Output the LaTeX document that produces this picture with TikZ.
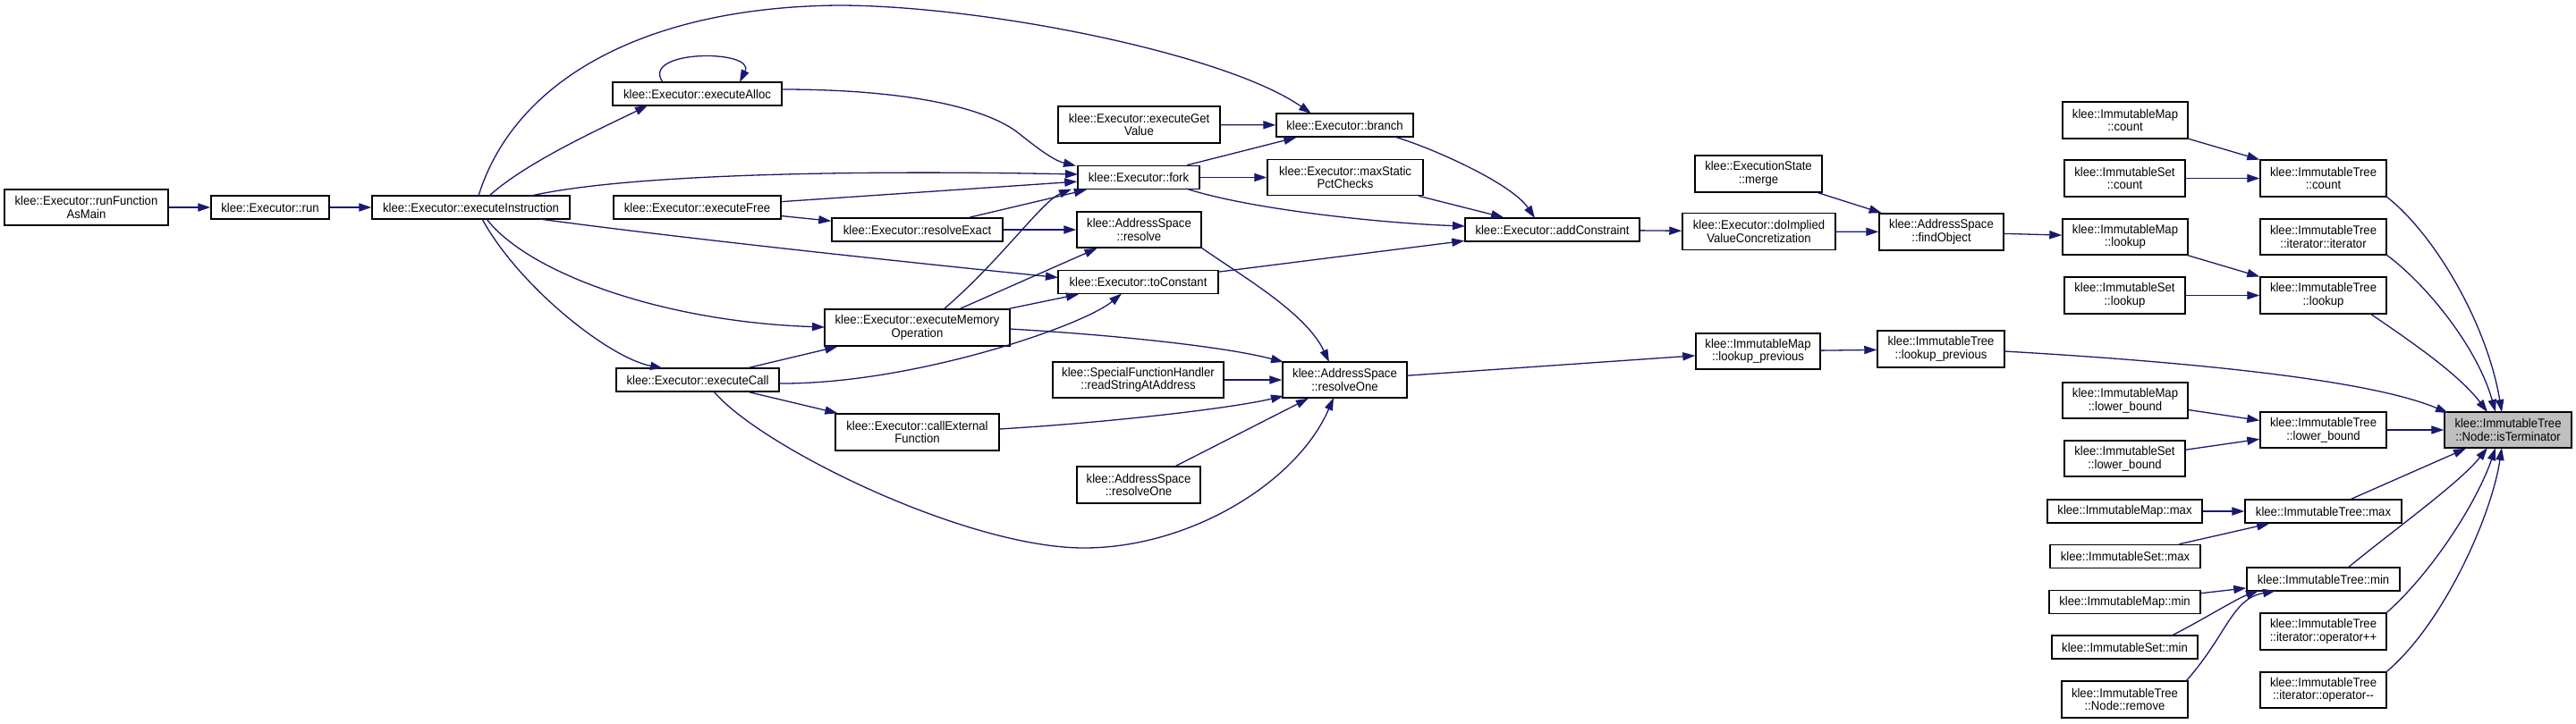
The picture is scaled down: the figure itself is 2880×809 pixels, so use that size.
\documentclass[tikz,border=0pt]{standalone}
\usepackage{fontspec}
\setmainfont{Liberation Sans}[FakeStretch=0.93]
\usetikzlibrary{arrows.meta}
\definecolor{edgec}{HTML}{191970}
\definecolor{termfill}{HTML}{BFBFBF}
\newcommand\bx[6]{\pgfmathsetmacro\bxw{#4*0.5}\pgfmathsetmacro\bxh{#5*0.5}%
  \node[box,minimum width=\bxw pt,minimum height=\bxh pt] (#1) at (#2,#3) {#6};}
\begin{document}
\begin{tikzpicture}[x=0.5pt,y=-0.5pt,
  box/.style={draw=black,line width=0.75pt,fill=white,inner sep=0pt,align=center,
    font=\fontsize{7.05}{7.3}\selectfont},
  edge/.style={draw=edgec,line width=0.65pt,-{Triangle[length=7pt,width=4.6pt]}}]
\fill[white] (0,0) rectangle (2880,809);
\useasboundingbox (0,0) rectangle (2880,809);
% nodes
\bx{rfam}{96.5}{232}{183}{40}{klee::Executor::runFunction\\AsMain}
\bx{run}{302}{232}{132}{26}{klee::Executor::run}
\bx{ei}{526.5}{232}{221}{26}{klee::Executor::executeInstruction}
\bx{ealloc}{779.5}{105}{189}{26}{klee::Executor::executeAlloc}
\bx{efree}{779.5}{232}{187}{26}{klee::Executor::executeFree}
\bx{ecall}{780}{425}{182}{26}{klee::Executor::executeCall}
\bx{egv}{1273.5}{139.5}{181}{41}{klee::Executor::executeGet\\Value}
\bx{branch}{1503.5}{140}{153}{26}{klee::Executor::branch}
\bx{fork}{1273}{198.5}{136}{26}{klee::Executor::fork}
\bx{maxs}{1504}{198.5}{174}{40}{klee::Executor::maxStatic\\PctChecks}
\bx{rexact}{1025.5}{257}{191}{26}{klee::Executor::resolveExact}
\bx{resolve}{1273.5}{257}{139}{40}{klee::AddressSpace\\::resolve}
\bx{tocon}{1272.5}{315.5}{179}{26}{klee::Executor::toConstant}
\bx{addc}{1735.5}{257}{195}{26}{klee::Executor::addConstraint}
\bx{emo}{1025.5}{366.5}{207}{41}{klee::Executor::executeMemory\\Operation}
\bx{rsaa}{1272.5}{425}{191}{40}{klee::SpecialFunctionHandler\\::readStringAtAddress}
\bx{rone}{1503.5}{425}{139}{40}{klee::AddressSpace\\::resolveOne}
\bx{cef}{1025.5}{483.5}{183}{41}{klee::Executor::callExternal\\Function}
\bx{rone2}{1273}{542.5}{138}{41}{klee::AddressSpace\\::resolveOne}
\bx{divc}{1966.5}{259}{171}{41}{klee::Executor::doImplied\\ValueConcretization}
\bx{merge}{1966}{194.5}{142}{41}{klee::ExecutionState\\::merge}
\bx{findobj}{2170.5}{259.5}{139}{41}{klee::AddressSpace\\::findObject}
\bx{imlp}{1965.5}{393}{139}{40}{klee::ImmutableMap\\::lookup\_previous}
\bx{itlp}{2170}{390.5}{142}{41}{klee::ImmutableTree\\::lookup\_previous}
\bx{imcount}{2376}{134.5}{140}{41}{klee::ImmutableMap\\::count}
\bx{iscount}{2375.5}{199.5}{135}{41}{klee::ImmutableSet\\::count}
\bx{itcount}{2597.5}{199.5}{141}{41}{klee::ImmutableTree\\::count}
\bx{imlookup}{2376}{265}{140}{40}{klee::ImmutableMap\\::lookup}
\bx{ititer}{2597.5}{265}{141}{40}{klee::ImmutableTree\\::iterator::iterator}
\bx{islookup}{2375.5}{330.5}{135}{41}{klee::ImmutableSet\\::lookup}
\bx{itlookup}{2597.5}{330.5}{141}{41}{klee::ImmutableTree\\::lookup}
\bx{imlb}{2376}{448}{140}{40}{klee::ImmutableMap\\::lower\_bound}
\bx{itlb}{2597.5}{481}{141}{40}{klee::ImmutableTree\\::lower\_bound}
\bx{islb}{2375.5}{513}{135}{40}{klee::ImmutableSet\\::lower\_bound}
\node[box,fill=termfill,minimum width=71pt,minimum height=20pt] (isterm) at (2804,481) {klee::ImmutableTree\\::Node::isTerminator};
\bx{immax}{2375.5}{572}{173}{26}{klee::ImmutableMap::max}
\bx{itmax}{2597.5}{572}{175}{26}{klee::ImmutableTree::max}
\bx{ismax}{2376}{622.5}{168}{26}{klee::ImmutableSet::max}
\bx{itmin}{2597.5}{648}{171}{26}{klee::ImmutableTree::min}
\bx{immin}{2375.5}{673.5}{169}{26}{klee::ImmutableMap::min}
\bx{itpp}{2597.5}{706.5}{141}{41}{klee::ImmutableTree\\::iterator::operator++}
\bx{ismin}{2375.5}{724}{163}{26}{klee::ImmutableSet::min}
\bx{itmm}{2597.5}{772}{141}{40}{klee::ImmutableTree\\::iterator::operator-{}-}
\bx{nremove}{2375.5}{782.5}{141}{41}{klee::ImmutableTree\\::Node::remove}
% straight edges
\draw[edge] (rfam) -- (run);
\draw[edge] (run) -- (ei);
\draw[edge] (egv) -- (branch);
\draw[edge] (fork) -- (maxs);
\draw[edge] (rexact) -- (resolve);
\draw[edge] (rsaa) -- (rone);
\draw[edge] (addc) -- (divc);
\draw[edge] (divc) -- (findobj);
\draw[edge] (findobj) -- (imlookup);
\draw[edge] (imlp) -- (itlp);
\draw[edge] (iscount) -- (itcount);
\draw[edge] (islookup) -- (itlookup);
\draw[edge] (itlb) -- (isterm);
\draw[edge] (immax) -- (itmax);
\draw[edge] (imcount) -- (itcount);
\draw[edge] (imlookup) -- (itlookup);
\draw[edge] (imlb) -- (itlb);
\draw[edge] (islb) -- (itlb);
\draw[edge] (ismax) -- (itmax);
\draw[edge] (immin) -- (itmin);
\draw[edge] (itmax) -- (isterm);
\draw[edge] (ecall) -- (emo);
\draw[edge] (ecall) -- (cef);
\draw[edge] (efree) -- (rexact);
\draw[edge] (efree) -- (fork);
\draw[edge] (rexact) -- (fork);
\draw[edge] (fork) -- (branch);
\draw[edge] (maxs) -- (addc);
\draw[edge] (tocon) -- (addc);
\draw[edge] (merge) -- (findobj);
\draw[edge] (rone) -- (imlp);
\draw[edge] (emo) -- (resolve);
\draw[edge] (emo) -- (tocon);
\draw[edge] (rone2) -- (rone);
% curved edges
\draw[edge] ([shift={(8.5,-13)}]ei.center) .. controls (575,90) and (720,8) .. (937,6)
  .. controls (1100,6) and (1370,60) .. ([shift={(-37.5,-13)}]branch.center);
\draw[edge] ([shift={(20.5,-13)}]ei.center) .. controls (590,180) and (680,140) .. ([shift={(-55.5,13)}]ealloc.center);
\draw[edge] ([shift={(-38.5,-13)}]ealloc.center) .. controls (715,55) and (845,55) .. ([shift={(47.5,-13)}]ealloc.center);
\draw[edge] ([shift={(94.5,-5)}]ealloc.center) .. controls (1030,100) and (1110,125) .. (1140,150)
  .. controls (1165,170) and (1180,180) .. ([shift={(-70,-13)}]fork.center);
\draw[edge] ([shift={(67.5,-13)}]ei.center) .. controls (700,195) and (950,190) .. ([shift={(-68,-3.5)}]fork.center);
\draw[edge] ([shift={(76.5,13)}]ei.center) .. controls (750,265) and (1000,292) .. ([shift={(-89.5,-5)}]tocon.center);
\draw[edge] ([shift={(17.5,13)}]ei.center) .. controls (590,305) and (740,360) .. ([shift={(-103.5,-0.5)}]emo.center);
\draw[edge] ([shift={(12.5,13)}]ei.center) .. controls (580,320) and (680,400) .. ([shift={(-39,-13)}]ecall.center);
\draw[edge] ([shift={(29.5,-20.5)}]emo.center) .. controls (1120,290) and (1165,225) .. ([shift={(-75,13)}]fork.center);
\draw[edge] ([shift={(103.5,1.5)}]emo.center) .. controls (1250,375) and (1370,388) .. ([shift={(-68.5,-20)}]rone.center);
\draw[edge] ([shift={(91,4)}]ecall.center) .. controls (1020,430) and (1210,365) .. ([shift={(-18.5,13)}]tocon.center);
\draw[edge] ([shift={(18,13)}]ecall.center) .. controls (850,500) and (1080,613) .. (1212,613)
  .. controls (1330,613) and (1450,540) .. ([shift={(-12.5,20)}]rone.center);
\draw[edge] ([shift={(91.5,-3.5)}]cef.center) .. controls (1250,472) and (1380,456) .. ([shift={(-68.5,18)}]rone.center);
\draw[edge] ([shift={(69.5,20)}]resolve.center) .. controls (1390,310) and (1460,350) .. ([shift={(-17.5,-20)}]rone.center);
\draw[edge] ([shift={(53,12.5)}]fork.center) .. controls (1400,235) and (1550,250) .. ([shift={(-97.5,-4)}]addc.center);
\draw[edge] ([shift={(55.5,13)}]branch.center) .. controls (1600,165) and (1690,205) .. ([shift={(-19.5,-13)}]addc.center);
\draw[edge] ([shift={(71,2.5)}]itlp.center) .. controls (2450,405) and (2650,425) .. ([shift={(-67,-19)}]isterm.center);
\draw[edge] ([shift={(70.5,20.5)}]itcount.center) .. controls (2720,260) and (2780,360) .. ([shift={(-7,-20)}]isterm.center);
\draw[edge] ([shift={(70.5,20)}]ititer.center) .. controls (2715,320) and (2770,390) .. ([shift={(-14,-20)}]isterm.center);
\draw[edge] ([shift={(52.5,20.5)}]itlookup.center) .. controls (2700,385) and (2750,420) .. ([shift={(-23,-20)}]isterm.center);
\draw[edge] ([shift={(27.5,-13)}]itmin.center) .. controls (2680,590) and (2750,540) .. ([shift={(-23,20)}]isterm.center);
\draw[edge] ([shift={(70,-20.5)}]itpp.center) .. controls (2720,640) and (2770,560) .. ([shift={(-14,20)}]isterm.center);
\draw[edge] ([shift={(70,-20)}]itmm.center) .. controls (2730,700) and (2785,580) .. ([shift={(-7,20)}]isterm.center);
\draw[edge] ([shift={(52.5,-13)}]ismin.center) .. controls (2460,695) and (2500,670) .. ([shift={(-72.5,13)}]itmin.center);
\draw[edge] ([shift={(68.5,-20.5)}]nremove.center) .. controls (2490,710) and (2495,670) .. ([shift={(-53.5,13)}]itmin.center);
\end{tikzpicture}
\end{document}
